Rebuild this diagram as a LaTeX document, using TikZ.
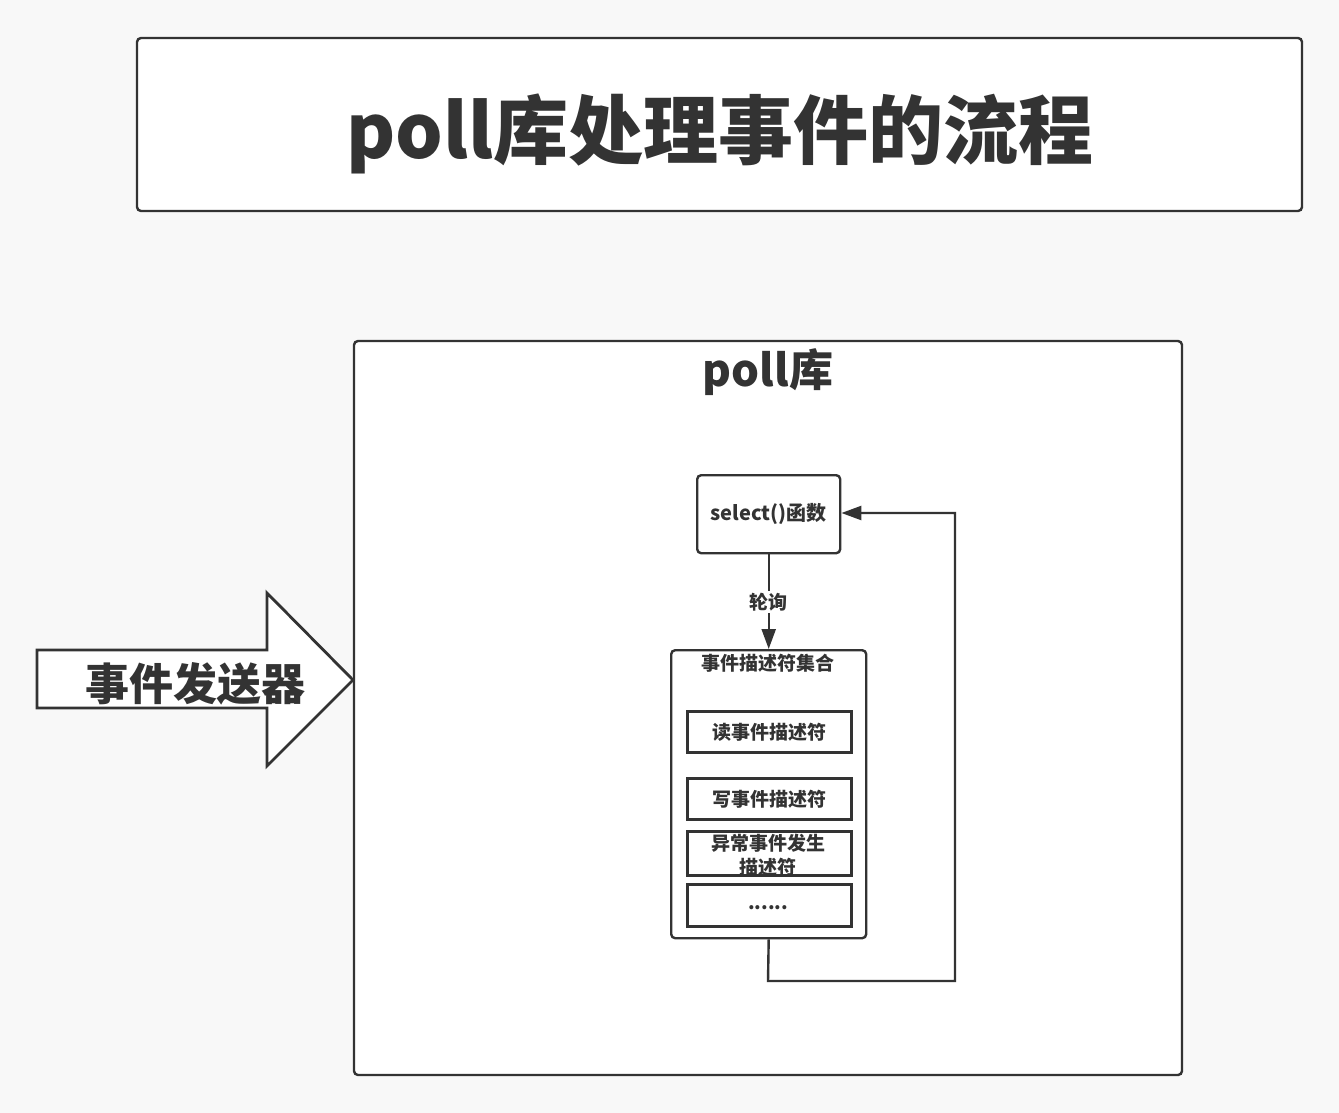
\documentclass[tikz,border=0pt]{standalone}
\usepackage{fontspec}
\setmainfont{Noto Sans CJK SC}
\usetikzlibrary{arrows.meta}
\definecolor{ink}{HTML}{333333}
\definecolor{bg}{HTML}{F8F8F8}
\begin{document}
\begin{tikzpicture}[x=1pt,y=-1pt,
  box/.style={draw=ink,line width=2.4pt,fill=white,rounded corners=4pt},
  sqbox/.style={draw=ink,line width=2.8pt,fill=white},
  conn/.style={draw=ink,line width=2.4pt},
  txt/.style={text=ink,font=\bfseries,inner sep=0pt}]
\fill[bg] (0,0) rectangle (1339,1113);
\useasboundingbox (0,0) rectangle (1339,1113);
% title
\path[box] (137,38) rectangle (1302,211);
\node[txt,font=\fontsize{75}{88}\selectfont\bfseries] (title) at (720,134) {poll库处理事件的流程};
% main box
\path[box] (354,341) rectangle (1182,1075);
\node[txt,font=\fontsize{44}{52}\selectfont\bfseries] (polllib) at (768,372) {poll库};
% select box
\node[box,minimum width=143pt,minimum height=78pt,anchor=north west,inner sep=0pt] (sel) at (696,474) {};
\node[txt,font=\fontsize{20}{24}\selectfont\bfseries] (seltxt) at (sel.center) {select()函数};
% set box
\node[box,minimum width=195pt,minimum height=288pt,anchor=north west,inner sep=0pt] (set) at (670,649) {};
\node[txt,font=\fontsize{19}{22}\selectfont\bfseries] (settxt) at (768,663) {事件描述符集合};
% inner boxes
\node[sqbox,minimum width=164pt,minimum height=41pt,anchor=north west,inner sep=0pt] (rd) at (686,710) {};
\node[txt,font=\fontsize{19}{22}\selectfont\bfseries] at (rd.center) {读事件描述符};
\node[sqbox,minimum width=164pt,minimum height=41pt,anchor=north west,inner sep=0pt] (wr) at (686,777) {};
\node[txt,font=\fontsize{19}{22}\selectfont\bfseries] at (wr.center) {写事件描述符};
\node[sqbox,minimum width=164pt,minimum height=44pt,anchor=north west,inner sep=0pt] (ex) at (686,830) {};
\node[txt,font=\fontsize{19}{22}\selectfont\bfseries] at (768,843) {异常事件发生};
\node[txt,font=\fontsize{19}{22}\selectfont\bfseries] at (768,867) {描述符};
\node[sqbox,minimum width=164pt,minimum height=42pt,anchor=north west,inner sep=0pt] (etc) at (686,883) {};
\node[txt,font=\fontsize{19}{22}\selectfont\bfseries] at (768,908) {......};
% connectors
\draw[conn,-{Triangle[length=20pt,width=14pt]}] (sel.south) -- (set.north)
  node[midway,fill=white,txt,font=\fontsize{19}{22}\selectfont\bfseries,inner sep=2pt] {轮询};
\coordinate (c1) at (768,981);
\coordinate (c2) at (955,981);
\coordinate (c3) at (955,513);
\draw[conn,-{Triangle[length=20pt,width=14pt]}] (set.south) -- (c1) -- (c2) -- (c3) -- (c3 -| sel.east);
% big arrow
\draw[draw=ink,line width=2.8pt,fill=white,line join=miter]
  (37,650) -- (267,650) -- (267,593) -- (353,680) -- (267,766) -- (267,708) -- (37,708) -- cycle;
\node[txt,font=\fontsize{44}{52}\selectfont\bfseries] (sender) at (195,684) {事件发送器};
\end{tikzpicture}
\end{document}
